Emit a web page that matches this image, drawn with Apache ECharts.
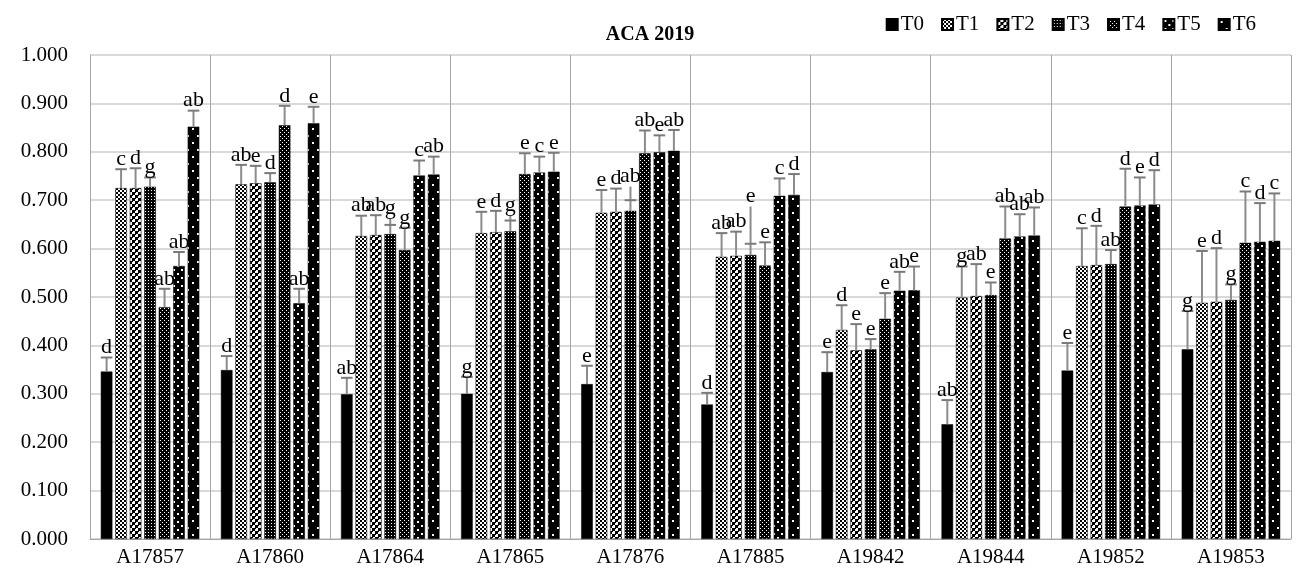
<!DOCTYPE html>
<html>
<head>
<meta charset="utf-8">
<script src="https://cdn.jsdelivr.net/npm/echarts@6/dist/echarts.min.js"></script>
<style>
  html, body { margin: 0; padding: 0; background: #fff; }
  #main { width: 1297px; height: 575px; }
</style>
</head>
<body>
<div id="main"></div>
<script>
const categories = ['A17857', 'A17860', 'A17864', 'A17865', 'A17876', 'A17885', 'A19842', 'A19844', 'A19852', 'A19853']
const seriesNames = ['T0', 'T1', 'T2', 'T3', 'T4', 'T5', 'T6']
const yTicks = [0, 0.1, 0.2, 0.3, 0.4, 0.5, 0.6, 0.7, 0.8, 0.9, 1.0]

// bar means
const t0 = [0.346, 0.349, 0.299, 0.300, 0.320, 0.278, 0.345, 0.237, 0.348, 0.392]
const t1 = [0.725, 0.733, 0.626, 0.632, 0.674, 0.583, 0.432, 0.499, 0.564, 0.488]
const t2 = [0.725, 0.735, 0.628, 0.634, 0.676, 0.585, 0.390, 0.502, 0.566, 0.490]
const t3 = [0.728, 0.737, 0.630, 0.636, 0.678, 0.587, 0.392, 0.504, 0.568, 0.494]
const t4 = [0.479, 0.855, 0.597, 0.754, 0.797, 0.565, 0.455, 0.621, 0.687, 0.612]
const t5 = [0.564, 0.487, 0.751, 0.757, 0.799, 0.709, 0.513, 0.625, 0.689, 0.614]
const t6 = [0.852, 0.859, 0.753, 0.759, 0.802, 0.711, 0.514, 0.627, 0.691, 0.616]

// upper error bar (cap) values
const t0Cap = [0.375, 0.378, 0.333, 0.335, 0.358, 0.302, 0.386, 0.287, 0.405, 0.471]
const t1Cap = [0.764, 0.773, 0.668, 0.676, 0.721, 0.632, 0.483, 0.563, 0.642, 0.595]
const t2Cap = [0.766, 0.771, 0.669, 0.678, 0.724, 0.635, 0.444, 0.568, 0.647, 0.601]
const t3Cap = [0.747, 0.756, 0.649, 0.658, 0.700, 0.610, 0.413, 0.530, 0.597, 0.526]
const t4Cap = [0.517, 0.895, 0.643, 0.797, 0.844, 0.613, 0.508, 0.687, 0.765, 0.718]
const t5Cap = [0.593, 0.517, 0.782, 0.790, 0.834, 0.745, 0.552, 0.671, 0.747, 0.694]
const t6Cap = [0.885, 0.893, 0.790, 0.798, 0.845, 0.754, 0.563, 0.685, 0.762, 0.714]
// T3 whisker runs past its cap in some groups
const t3Whisker = [0.747, 0.756, 0.662, 0.669, 0.728, 0.687, 0.413, 0.530, 0.597, 0.526]

// significance letters
const t0Letters = ['d', 'd', 'ab', 'g', 'e', 'd', 'e', 'ab', 'e', 'g']
const t1Letters = ['c', 'ab', 'ab', 'e', 'e', 'ab', 'd', 'g', 'c', 'e']
const t2Letters = ['d', 'e', 'ab', 'd', 'd', 'ab', 'e', 'ab', 'd', 'd']
const t3Letters = ['g', 'd', 'g', 'g', 'ab', 'e', 'e', 'e', 'ab', 'g']
const t4Letters = ['ab', 'd', 'g', 'e', 'ab', 'e', 'e', 'ab', 'd', 'c']
const t5Letters = ['ab', 'ab', 'c', 'c', 'e', 'c', 'ab', 'ab', 'e', 'd']
const t6Letters = ['ab', 'e', 'ab', 'e', 'ab', 'd', 'e', 'ab', 'd', 'c']

const means = [t0, t1, t2, t3, t4, t5, t6]
const caps = [t0Cap, t1Cap, t2Cap, t3Cap, t4Cap, t5Cap, t6Cap]
const whiskers = [t0Cap, t1Cap, t2Cap, t3Whisker, t4Cap, t5Cap, t6Cap]
const letters = [t0Letters, t1Letters, t2Letters, t3Letters, t4Letters, t5Letters, t6Letters]

const FONT = '"Liberation Serif", "Times New Roman", serif'
const CAT_GAP = 0.18
const BAR_GAP = 0.25

// small tiled fills, the way Excel pattern fills look
function tile(w, h, bg, fg, dots) {
  const c = document.createElement('canvas')
  c.width = w
  c.height = h
  const ctx = c.getContext('2d')
  ctx.fillStyle = bg
  ctx.fillRect(0, 0, w, h)
  ctx.fillStyle = fg
  dots.forEach(d => ctx.fillRect(d[0], d[1], d[2], d[3]))
  return { image: c, repeat: 'repeat' }
}

const fills = [
  '#000',
  tile(4, 4, '#fff', '#000', [[0, 0, 2, 2], [2, 2, 2, 2]]),
  tile(6, 6, '#fff', '#000', [[0, 0, 3, 3], [3, 3, 3, 3], [0, 3, 1, 1], [3, 0, 1, 1]]),
  tile(3, 3, '#000', '#fff', [[1, 1, 1, 1]]),
  tile(4, 4, '#000', '#fff', [[0, 0, 1, 1], [2, 2, 1, 1]]),
  tile(8, 8, '#000', '#fff', [[1, 1, 2, 2], [5, 5, 2, 2]]),
  tile(10, 14, '#000', '#fff', [[2, 2, 2, 2], [7, 9, 2, 2]])
]

const errData = []
const errLetters = []
means.forEach((vals, s) => {
  vals.forEach((v, i) => {
    errData.push([i, s, v, whiskers[s][i], caps[s][i]])
    errLetters.push(letters[s][i])
  })
})

function renderErr(params, api) {
  const band = api.size([1, 0])[0]
  const w = band * (1 - CAT_GAP) / (7 + 6 * BAR_GAP)
  const pitch = w * (1 + BAR_GAP)
  const total = 7 * w + 6 * w * BAR_GAP
  const cx = api.coord([api.value(0), 0])[0] - total / 2 + api.value(1) * pitch + w / 2
  const yBar = api.coord([api.value(0), api.value(2)])[1]
  const yTop = api.coord([api.value(0), api.value(3)])[1]
  const yCap = api.coord([api.value(0), api.value(4)])[1]
  return {
    type: 'group',
    children: [
      { type: 'line', shape: { x1: cx, y1: yBar, x2: cx, y2: yTop }, style: { stroke: '#8c8c8c', lineWidth: 2 } },
      { type: 'line', shape: { x1: cx - w / 2, y1: yCap, x2: cx + w / 2, y2: yCap }, style: { stroke: '#7a7a7a', lineWidth: 2 } },
      {
        type: 'text',
        style: {
          text: errLetters[params.dataIndex],
          x: cx,
          y: Math.min(yTop, yCap) + 1,
          fill: '#000',
          font: '22px ' + FONT,
          align: 'center',
          verticalAlign: 'bottom'
        }
      }
    ]
  }
}

const chart = echarts.init(document.getElementById('main'), null, { renderer: 'canvas' })

const barSeries = seriesNames.map((name, s) => ({
  name: name,
  type: 'bar',
  data: means[s],
  barGap: (BAR_GAP * 100) + '%',
  barCategoryGap: (CAT_GAP * 100) + '%',
  itemStyle: { color: fills[s], borderColor: '#000', borderWidth: 0.5 },
  animation: false
}))

chart.setOption({
  backgroundColor: '#fff',
  animation: false,
  title: {
    text: 'ACA 2019',
    left: 645,
    textAlign: 'center',
    top: 20,
    textStyle: { fontFamily: FONT, fontSize: 20, fontWeight: 'bold', color: '#000' }
  },
  legend: {
    data: seriesNames,
    right: 36,
    top: 9,
    icon: 'rect',
    itemWidth: 11,
    itemHeight: 11,
    itemGap: 17,
    textStyle: { fontFamily: FONT, fontSize: 21, color: '#000', padding: [0, 0, 0, -2] }
  },
  grid: { left: 90, right: 6, top: 55, bottom: 36 },
  xAxis: {
    type: 'category',
    data: categories,
    axisLine: { show: true, lineStyle: { color: '#a6a6a6', width: 1 } },
    axisTick: { show: false },
    splitLine: { show: true, lineStyle: { color: '#a6a6a6', width: 1 } },
    axisLabel: { fontFamily: FONT, fontSize: 21, color: '#000', margin: 8 }
  },
  yAxis: {
    type: 'value',
    min: yTicks[0],
    max: yTicks[yTicks.length - 1],
    interval: 0.1,
    axisLine: { show: true, lineStyle: { color: '#a6a6a6', width: 1 } },
    axisTick: { show: false },
    splitLine: { lineStyle: { color: '#d9d9d9', width: 2 } },
    axisLabel: {
      fontFamily: FONT,
      fontSize: 21,
      color: '#000',
      margin: 22,
      formatter: v => v.toFixed(3)
    }
  },
  series: barSeries.concat([{
    name: 'err',
    type: 'custom',
    renderItem: renderErr,
    data: errData,
    z: 5,
    clip: false,
    silent: true,
    animation: false
  }])
})
</script>
</body>
</html>
